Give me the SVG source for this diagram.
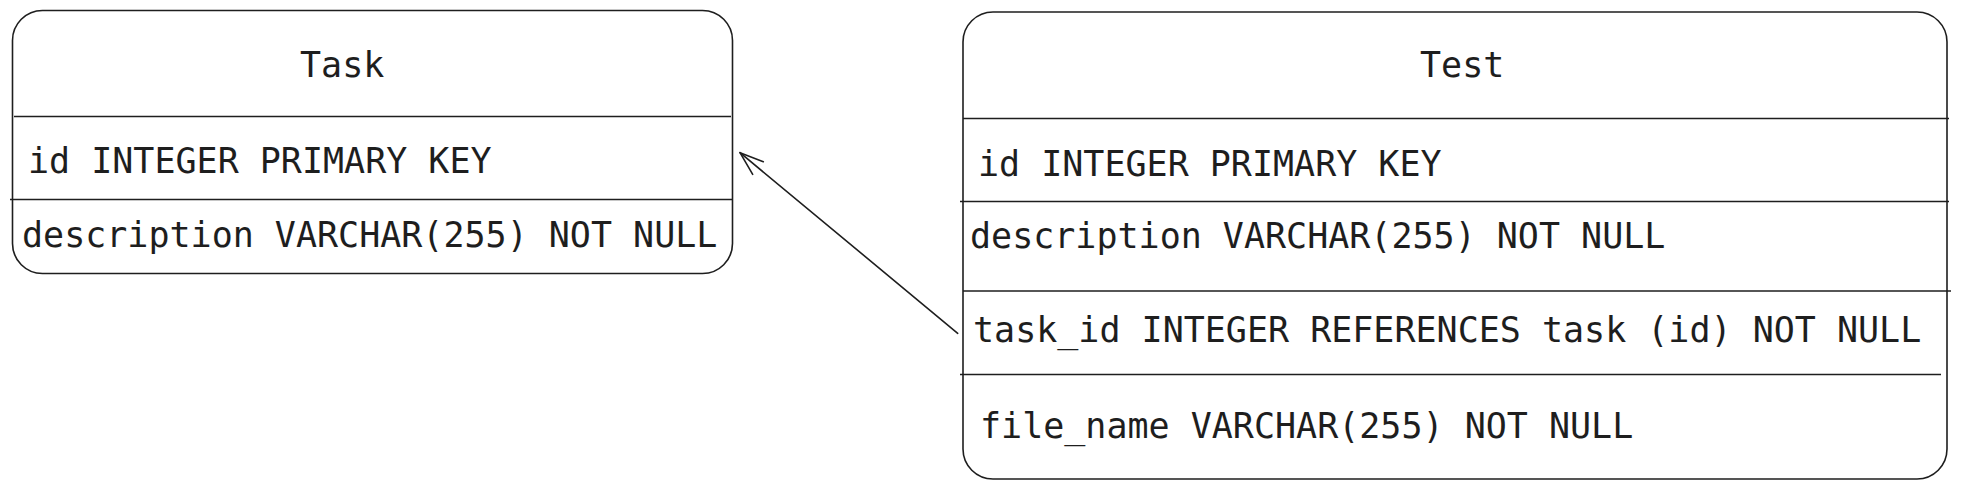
<svg xmlns="http://www.w3.org/2000/svg" width="1961" height="489" viewBox="0 0 1961 489">
<style>
.box{fill:#ffffff;stroke:#1e1e1e;stroke-width:1.6}
.div{stroke:#1e1e1e;stroke-width:1.6;fill:none}
.t{font-family:"DejaVu Sans Mono","Liberation Mono",monospace;font-size:35px;fill:#1e1e1e}
.edge{stroke:#1e1e1e;stroke-width:1.6;fill:none;stroke-linecap:round;stroke-linejoin:round}
</style>
<rect width="1961" height="489" fill="#ffffff"/>
<g id="task">
<rect class="box" x="12.5" y="10.5" width="720" height="263" rx="30" ry="30"/>
<line class="div" x1="14" y1="116.5" x2="731" y2="116.5"/>
<line class="div" x1="10" y1="199.5" x2="732" y2="199.5"/>
<text class="t" x="300" y="77">Task</text>
<text class="t" x="28" y="173">id INTEGER PRIMARY KEY</text>
<text class="t" x="22" y="246.5">description VARCHAR(255) NOT NULL</text>
</g>
<g id="test">
<rect class="box" x="963" y="12" width="984" height="467" rx="30" ry="30"/>
<line class="div" x1="963" y1="118.5" x2="1949" y2="118.5"/>
<line class="div" x1="960" y1="201.5" x2="1949" y2="201.5"/>
<line class="div" x1="963" y1="291" x2="1951" y2="291"/>
<line class="div" x1="960" y1="374.5" x2="1941" y2="374.5"/>
<text class="t" x="1420" y="76.5">Test</text>
<text class="t" x="978" y="175.5">id INTEGER PRIMARY KEY</text>
<text class="t" x="970" y="248">description VARCHAR(255) NOT NULL</text>
<text class="t" x="973" y="341.5">task_id INTEGER REFERENCES task (id) NOT NULL</text>
<text class="t" x="980" y="438">file_name VARCHAR(255) NOT NULL</text>
</g>
<g id="connectors">
<path class="edge" d="M957.7 333.3 L740 152.7"/>
<path class="edge" d="M763.3 161.7 L740 152.7 L752.7 174.3"/>
</g>
</svg>
